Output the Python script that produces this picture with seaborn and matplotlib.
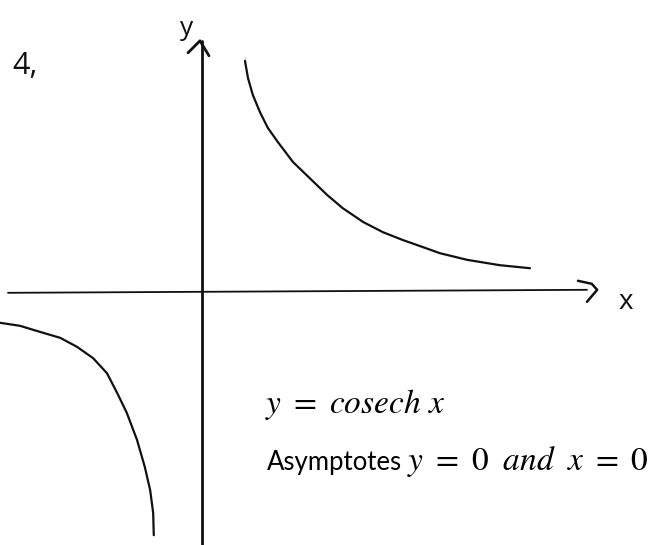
import numpy as np
import pandas as pd
import matplotlib
matplotlib.use("Agg")
import matplotlib.pyplot as plt
import seaborn as sns

# --- data (units: 1 = 60 px, origin where the axes cross) ---
upper_x = [0.70, 0.70, 0.75, 0.83, 0.95, 1.08, 1.25, 1.50, 1.78, 2.07,
           2.33, 2.67, 3.00, 3.33, 3.67, 3.95, 4.40, 4.95, 5.45]
upper_y = [3.90, 3.77, 3.55, 3.27, 2.98, 2.72, 2.48, 2.15, 1.88, 1.60,
           1.38, 1.15, 0.98, 0.85, 0.73, 0.63, 0.52, 0.43, 0.38]

lower_x = [-3.38, -3.05, -2.72, -2.38, -2.10, -1.83, -1.60, -1.43, -1.27,
           -1.10, -0.97, -0.88, -0.83, -0.82]
lower_y = [-0.53, -0.58, -0.68, -0.78, -0.93, -1.12, -1.37, -1.70, -2.03,
           -2.48, -2.93, -3.32, -3.70, -4.07]

# hand drawn axes and arrow heads
xaxis_x = [-3.25, 6.40]
xaxis_y = [-0.03, 0.02]
yaxis_x = [-0.01, -0.01]
yaxis_y = [-4.25, 4.17]
yarrow_x = [-0.25, -0.05, 0.10]
yarrow_y = [3.97, 4.17, 3.92]
xarrow_x = [6.25, 6.48, 6.57, 6.40]
xarrow_y = [0.17, 0.12, 0.02, -0.18]

x_lim = (-3.383, 7.517)
y_lim = (-4.233, 4.85)

sns.set_style("white")
plt.rcParams["mathtext.fontset"] = "stix"

fig = plt.figure(figsize=(6.54, 5.45), dpi=100)
ax = fig.add_axes([0, 0, 1, 1])

ink = "#111111"

upper = pd.DataFrame({"x": upper_x, "y": upper_y})
lower = pd.DataFrame({"x": lower_x, "y": lower_y})
sns.lineplot(data=upper, x="x", y="y", sort=False, color=ink, lw=1.6, ax=ax)
sns.lineplot(data=lower, x="x", y="y", sort=False, color=ink, lw=1.6, ax=ax)
for ln in ax.lines:
    ln.set_solid_joinstyle("round")
    ln.set_solid_capstyle("round")

ax.plot(xaxis_x, xaxis_y, color=ink, lw=1.3, solid_capstyle="round")
ax.plot(yaxis_x, yaxis_y, color=ink, lw=2.0, solid_capstyle="round")
ax.plot(yarrow_x, yarrow_y, color=ink, lw=2.0, solid_capstyle="round")
ax.plot(xarrow_x, xarrow_y, color=ink, lw=1.8, solid_capstyle="round")

# handwritten labels
ax.text(-0.28, 4.38, "y", fontsize=19, family="Open Sans", color=ink,
        ha="center", va="center")
ax.text(7.05, -0.18, "x", fontsize=20, family="Open Sans", color=ink,
        ha="center", va="center")
ax.text(-3.18, 3.75, "4,", fontsize=22, family="Open Sans", color=ink,
        ha="left", va="center")

# typed notes
ax.text(1.03, -2.03, r"$y\ =\ cosech\ x$", fontsize=24, color="black",
        ha="left", va="baseline")
ax.text(1.07, -2.98, "Asymptotes", fontsize=18.5, family="Lato", color="black",
        ha="left", va="baseline")
ax.text(3.40, -2.98, r"$y\ =\ 0\ \;and\ \;x\ =\ 0$", fontsize=24, color="black",
        ha="left", va="baseline")

ax.set_xlim(*x_lim)
ax.set_ylim(*y_lim)
ax.set_xlabel("")
ax.set_ylabel("")
ax.axis("off")

fig.savefig("out.png", dpi=100)
